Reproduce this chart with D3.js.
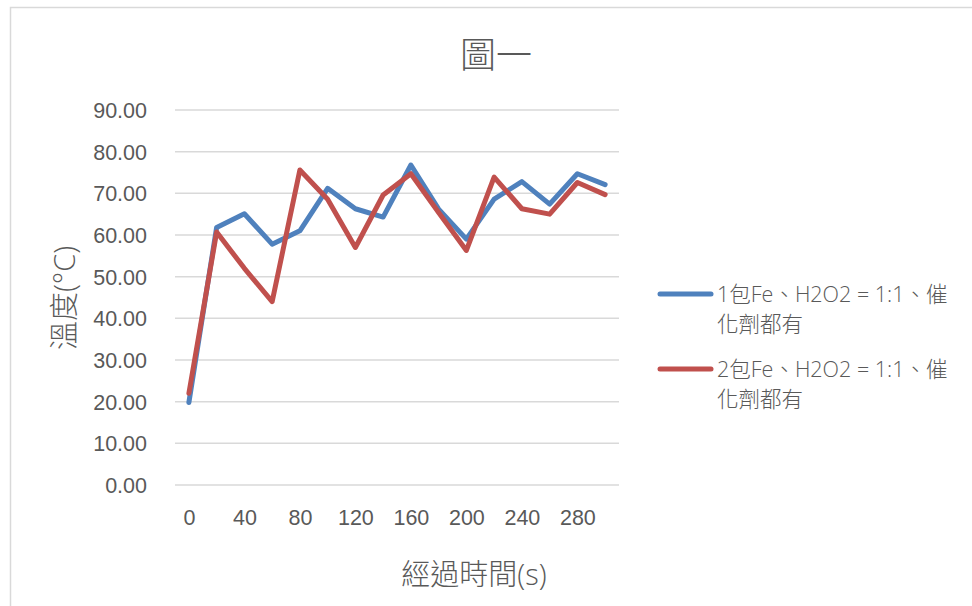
<!DOCTYPE html>
<html>
<head>
<meta charset="utf-8">
<script src="https://cdn.jsdelivr.net/npm/d3@7"></script>
<style>
  html, body { margin: 0; padding: 0; background: #fff; }
  svg { display: block; font-family: "Open Sans", "Noto Sans CJK TC", sans-serif; }
  .light { font-weight: 300; }
</style>
</head>
<body>
<svg id="chart" width="972" height="606"></svg>
<script>
// Time points (s) and temperatures (°C) for the two runs
const times = [0, 20, 40, 60, 80, 100, 120, 140, 160, 180, 200, 220, 240, 260, 280, 300];
const series1 = [19.8, 61.8, 65.1, 57.8, 61.0, 71.2, 66.3, 64.3, 76.8, 66.2, 59.0, 68.6, 72.8, 67.4, 74.7, 72.1];
const series2 = [22.0, 60.7, 52.0, 44.0, 75.6, 68.6, 57.0, 69.6, 74.7, 65.4, 56.3, 73.9, 66.3, 65.0, 72.6, 69.7];
const seriesNames = ["1包Fe、H2O2 = 1:1、催化劑都有", "2包Fe、H2O2 = 1:1、催化劑都有"];
const seriesColors = ["#4F81BD", "#C0504D"];
const yTicks = [0, 10, 20, 30, 40, 50, 60, 70, 80, 90];
const xTickLabels = [0, 40, 80, 120, 160, 200, 240, 280];
const chartTitle = "圖一";
const xTitle = "經過時間(s)";
const yTitle = "溫度(°C)";

const svg = d3.select("#chart");

// outer chart frame (only top and left edges fall inside the view)
svg.append("rect")
  .attr("x", 10.5).attr("y", 7.5)
  .attr("width", 1000).attr("height", 700)
  .attr("fill", "#fff")
  .attr("stroke", "#D9D9D9").attr("stroke-width", 1.5);

const plot = { left: 175, right: 619, top: 110, bottom: 485 };

const x = d3.scalePoint()
  .domain(times)
  .range([plot.left, plot.right])
  .padding(0.5);

const y = d3.scaleLinear()
  .domain([0, 90])
  .range([plot.bottom, plot.top]);

// horizontal gridlines
svg.append("g")
  .selectAll("line")
  .data(yTicks)
  .join("line")
  .attr("x1", plot.left).attr("x2", plot.right)
  .attr("y1", d => y(d)).attr("y2", d => y(d))
  .attr("stroke", "#D9D9D9").attr("stroke-width", 1.5);

// y axis labels
const yAxis = d3.axisLeft(y)
  .tickValues(yTicks)
  .tickFormat(d3.format(".2f"))
  .tickSize(0)
  .tickPadding(0);
const gy = svg.append("g")
  .attr("transform", `translate(${plot.left - 28},0)`)
  .call(yAxis);
gy.select(".domain").remove();
gy.selectAll("text")
  .attr("fill", "#595959")
  .style("font-size", "21.5px")
  .attr("dy", "0.35em");

// x axis labels (every second category)
const xAxis = d3.axisBottom(x)
  .tickValues(xTickLabels)
  .tickSize(0)
  .tickPadding(0);
const gx = svg.append("g")
  .attr("transform", `translate(0,${plot.bottom + 32})`)
  .call(xAxis);
gx.select(".domain").remove();
gx.selectAll("text")
  .attr("fill", "#595959")
  .style("font-size", "21.5px")
  .attr("dy", "0.35em");

// data lines
const line = d3.line()
  .x((d, i) => x(times[i]))
  .y(d => y(d));

[series1, series2].forEach((s, k) => {
  svg.append("path")
    .datum(s)
    .attr("d", line)
    .attr("fill", "none")
    .attr("stroke", seriesColors[k])
    .attr("stroke-width", 5)
    .attr("stroke-linejoin", "round")
    .attr("stroke-linecap", "round");
});

// title
svg.append("text")
  .attr("class", "light")
  .attr("x", 496).attr("y", 55)
  .attr("text-anchor", "middle")
  .attr("dy", "0.35em")
  .attr("fill", "#595959")
  .style("font-size", "36px")
  .text(chartTitle);

// axis titles
svg.append("text")
  .attr("class", "light")
  .attr("x", 474).attr("y", 575)
  .attr("text-anchor", "middle")
  .attr("dy", "0.35em")
  .attr("fill", "#595959")
  .style("font-size", "29px")
  .text(xTitle);

svg.append("text")
  .attr("class", "light")
  .attr("transform", "translate(65,298) rotate(-90)")
  .attr("text-anchor", "middle")
  .attr("dy", "0.35em")
  .attr("fill", "#595959")
  .style("font-size", "29px")
  .text(yTitle);

// legend
const legendRows = [294, 369];
seriesNames.forEach((name, k) => {
  const g = svg.append("g").attr("transform", `translate(0,${legendRows[k]})`);
  g.append("line")
    .attr("x1", 660).attr("x2", 711)
    .attr("y1", 0).attr("y2", 0)
    .attr("stroke", seriesColors[k])
    .attr("stroke-width", 5)
    .attr("stroke-linecap", "round");
  const t = g.append("text")
    .attr("class", "light")
    .attr("fill", "#595959")
    .style("font-size", "21.5px");
  const cut = name.indexOf("催") + 1;
  t.append("tspan").attr("x", 717).attr("y", 0).attr("dy", "0.35em").text(name.slice(0, cut));
  t.append("tspan").attr("x", 717).attr("y", 30).attr("dy", "0.35em").text(name.slice(cut));
});
</script>
</body>
</html>
